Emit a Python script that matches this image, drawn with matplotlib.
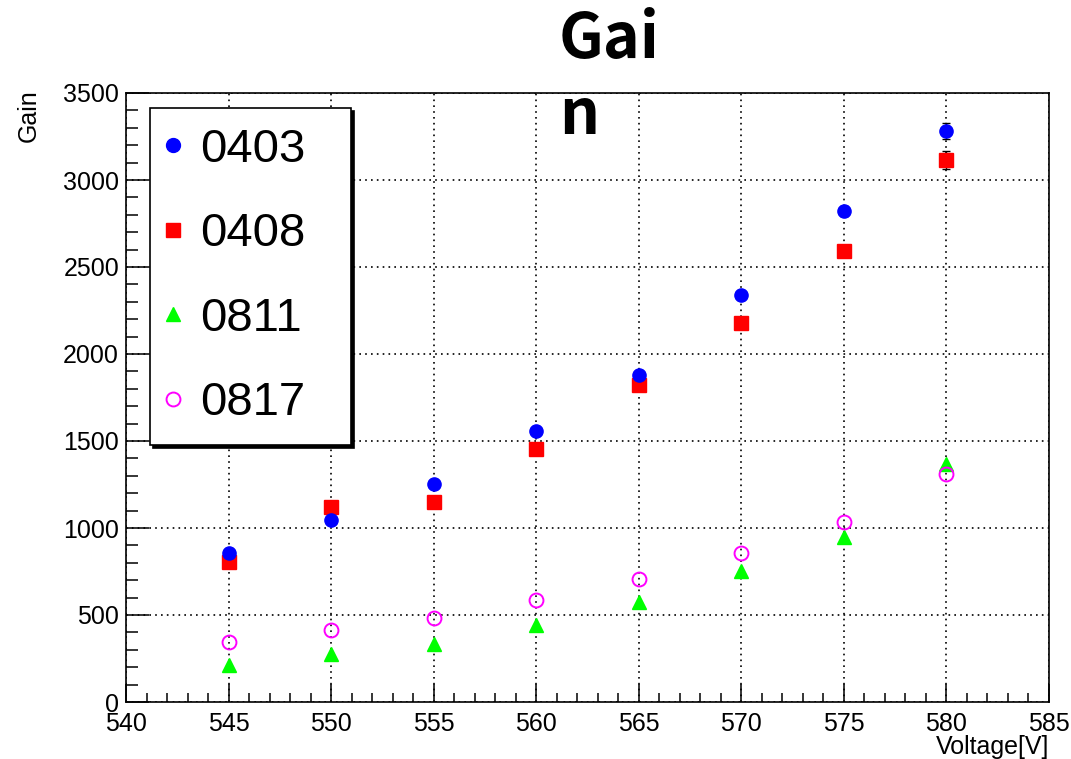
import matplotlib
matplotlib.use("Agg")
import matplotlib.pyplot as plt
from matplotlib.ticker import MultipleLocator

plt.rcParams['font.family'] = ['Liberation Sans', 'DejaVu Sans']

voltage = [545, 550, 555, 560, 565, 570, 575, 580]

gain_0403 = [856, 1046, 1253, 1557, 1879, 2339, 2822, 3282]
gain_0408 = [805, 1121, 1149, 1454, 1822, 2178, 2592, 3115]
gain_0811 = [213, 276, 333, 443, 575, 753, 948, 1368]
gain_0817 = [345, 414, 483, 586, 707, 856, 1034, 1310]

# only the last points carry error bars longer than the markers
err_0403 = [12, 14, 16, 18, 20, 24, 28, 47]
err_0408 = [12, 14, 15, 17, 20, 23, 27, 50]

labels = ['0403', '0408', '0811', '0817']

fig = plt.figure(figsize=(10.71, 7.59), dpi=100)
ax = fig.add_axes([126/1071, 1 - 702/759, (1049 - 126)/1071, (702 - 93)/759])

ax.errorbar(voltage, gain_0403, yerr=err_0403, fmt='none', ecolor='k',
            elinewidth=1, capsize=3, capthick=1, zorder=3)
ax.errorbar(voltage, gain_0408, yerr=err_0408, fmt='none', ecolor='k',
            elinewidth=1, capsize=3, capthick=1, zorder=3)

ax.plot(voltage, gain_0403, 'o', color='#0000ff', ms=9.5, label=labels[0], zorder=5)
ax.plot(voltage, gain_0408, 's', color='#ff0000', ms=9.5, label=labels[1], zorder=4)
ax.plot(voltage, gain_0811, '^', color='#00ff00', ms=9.5, label=labels[2], zorder=4)
ax.plot(voltage, gain_0817, 'o', mfc='none', mec='#ff00ff', mew=1.4, ms=10,
        label=labels[3], zorder=4)

ax.set_xlim(540, 585)
ax.set_ylim(0, 3500)
ax.xaxis.set_major_locator(MultipleLocator(5))
ax.xaxis.set_minor_locator(MultipleLocator(1))
ax.yaxis.set_major_locator(MultipleLocator(500))
ax.yaxis.set_minor_locator(MultipleLocator(100))

ax.tick_params(axis='both', which='both', direction='in', top=False, right=False,
               labelsize=18, width=1.1)
ax.tick_params(axis='x', which='major', length=13, pad=7)
ax.tick_params(axis='x', which='minor', length=6.5)
ax.tick_params(axis='y', which='major', length=16.5, pad=5)
ax.tick_params(axis='y', which='minor', length=8.5)

for s in ax.spines.values():
    s.set_linewidth(1.2)

ax.grid(True, which='major', color='k', linestyle=(0, (1, 2.5)), linewidth=1.2)
ax.set_axisbelow(True)

ax.set_xlabel('Voltage[V]', fontsize=18, loc='right')
ax.xaxis.set_label_coords(1.0, -0.055)
ax.set_ylabel('Gain', fontsize=18, loc='top')
ax.yaxis.set_label_coords(-0.092, 1.006)

leg = ax.legend(loc='upper left', bbox_to_anchor=(150/1071, 1 - 108/759, 201/1071, 0),
                bbox_transform=fig.transFigure, mode='expand', borderaxespad=0,
                fontsize=34, numpoints=1, handlelength=0.15, handletextpad=0.5,
                borderpad=0.415, labelspacing=0.86, fancybox=False,
                shadow={'color': 'k', 'alpha': 1.0}, framealpha=1, edgecolor='k')
leg.get_frame().set_linewidth(1.2)
for h in leg.legend_handles:
    h.set_markersize(10)

fig.text(559/1071, 1 - 8/759, 'Gai\nn', ha='left', va='top', fontsize=45,
         fontweight='bold', family=['Noto Sans CJK JP', 'DejaVu Sans'], linespacing=1.25)

fig.savefig('out.png', dpi=100)
